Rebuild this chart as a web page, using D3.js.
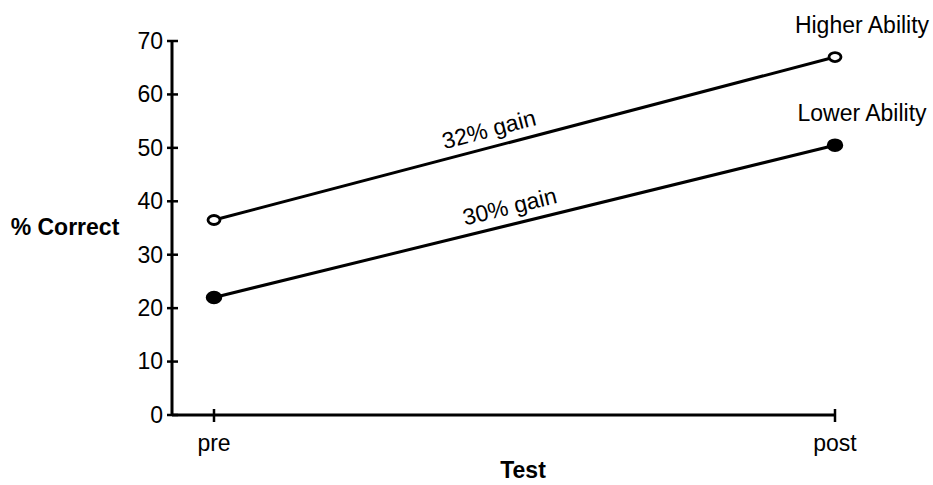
<!DOCTYPE html>
<html>
<head>
<meta charset="utf-8">
<script src="https://cdn.jsdelivr.net/npm/d3@7"></script>
<style>
  html, body { margin: 0; padding: 0; background: #fff; }
  svg { display: block; font-family: "Liberation Sans", Arial, sans-serif; }
</style>
</head>
<body>
<svg id="chart" width="933" height="485"></svg>
<script>
// Data
const categories = ["pre", "post"];
const seriesNames = ["Higher Ability", "Lower Ability"];
const higherValues = [36.5, 67];
const lowerValues = [22, 50.5];
const gainLabels = ["32% gain", "30% gain"];
const yTicks = [0, 10, 20, 30, 40, 50, 60, 70];

const FS = 23;
const svg = d3.select("#chart");
const x = d3.scalePoint().domain(categories).range([214, 835]);
const y = d3.scaleLinear().domain([0, 70]).range([415, 41]);
const axisX0 = 172;

// Y axis
const yAxis = d3.axisLeft(y).tickValues(yTicks).tickSize(0).tickPadding(9);
const gy = svg.append("g").attr("transform", `translate(${axisX0},0)`).call(yAxis);
gy.select(".domain").remove();
gy.selectAll("text").attr("font-size", FS).attr("fill", "#000")
  .attr("font-family", "Liberation Sans, Arial, sans-serif");
svg.append("line").attr("x1", axisX0).attr("x2", axisX0)
  .attr("y1", y(0)).attr("y2", y(70)).attr("stroke", "#000").attr("stroke-width", 3);
svg.selectAll(".ytick").data(yTicks).enter().append("line")
  .attr("x1", axisX0 - 5).attr("x2", axisX0 + 6)
  .attr("y1", d => y(d)).attr("y2", d => y(d))
  .attr("stroke", "#000").attr("stroke-width", 2.5);

// X axis
svg.append("line").attr("x1", axisX0).attr("x2", x("post"))
  .attr("y1", y(0)).attr("y2", y(0)).attr("stroke", "#000").attr("stroke-width", 3);
svg.selectAll(".xtick").data(categories).enter().append("line")
  .attr("x1", d => x(d)).attr("x2", d => x(d))
  .attr("y1", y(0) - 6).attr("y2", y(0) + 7)
  .attr("stroke", "#000").attr("stroke-width", 2.5);
svg.selectAll(".xlab").data(categories).enter().append("text")
  .attr("x", d => x(d)).attr("y", y(0) + 36)
  .attr("text-anchor", "middle").attr("font-size", FS).text(d => d);

// Axis titles
svg.append("text").attr("x", 523).attr("y", 478).attr("text-anchor", "middle")
  .attr("font-size", FS).attr("font-weight", "bold").text("Test");
svg.append("text").attr("x", 65).attr("y", 235).attr("text-anchor", "middle")
  .attr("font-size", FS).attr("font-weight", "bold").text("% Correct");

// Lines
const series = [
  { name: seriesNames[0], values: higherValues, filled: false, gain: gainLabels[0], t: 0.45 },
  { name: seriesNames[1], values: lowerValues, filled: true, gain: gainLabels[1], t: 0.483 }
];
const line = d3.line().x((d, i) => x(categories[i])).y(d => y(d));
series.forEach(s => {
  svg.append("path").attr("d", line(s.values)).attr("fill", "none")
    .attr("stroke", "#000").attr("stroke-width", 3);
  svg.selectAll(null).data(s.values).enter().append("ellipse")
    .attr("cx", (d, i) => x(categories[i])).attr("cy", d => y(d))
    .attr("rx", s.filled ? 7.5 : 6).attr("ry", s.filled ? 6 : 4.5)
    .attr("fill", s.filled ? "#000" : "#fff")
    .attr("stroke", "#000").attr("stroke-width", s.filled ? 1.5 : 2.8);
  // series label above end point
  svg.append("text").attr("x", 862).attr("y", y(s.values[1]) - 24)
    .attr("text-anchor", "middle").attr("font-size", FS).text(s.name);
  // gain label along line
  const x1 = x("pre"), y1 = y(s.values[0]), x2 = x("post"), y2 = y(s.values[1]);
  const ang = Math.atan2(y2 - y1, x2 - x1) * 180 / Math.PI;
  const mx = x1 + (x2 - x1) * s.t, my = y1 + (y2 - y1) * s.t;
  svg.append("text").attr("transform", `translate(${mx},${my}) rotate(${ang}) translate(0,-10)`)
    .attr("text-anchor", "middle").attr("font-size", FS).text(s.gain);
});
</script>
</body>
</html>
